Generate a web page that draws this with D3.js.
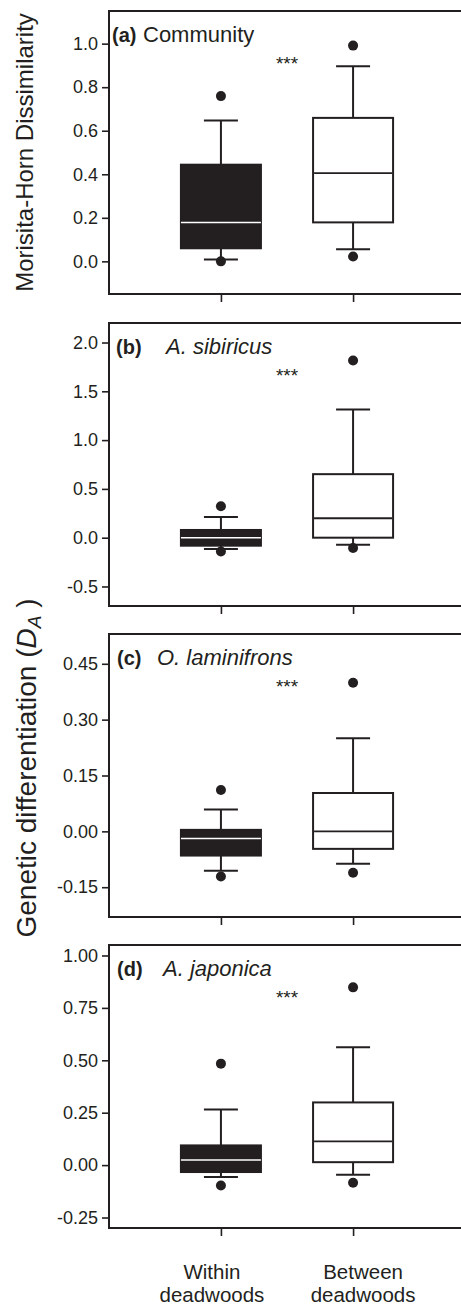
<!DOCTYPE html>
<html>
<head>
<meta charset="utf-8">
<script src="https://cdn.jsdelivr.net/npm/d3@7"></script>
<style>
  body { margin: 0; background: #fff; }
  text { font-family: "Liberation Sans", Arial, sans-serif; fill: #231f20; }
</style>
</head>
<body>
<script>
// categories and panels
const categories = ["Within deadwoods", "Between deadwoods"];
const panelIds = ["(a)", "(b)", "(c)", "(d)"];
const panelNames = ["Community", "A. sibiricus", "O. laminifrons", "A. japonica"];
const italicName = [false, true, true, true];
const significance = ["***", "***", "***", "***"];

// y axes
const yDomains = [[-0.15, 1.15], [-0.7, 2.2], [-0.23, 0.53], [-0.30, 1.05]];
const yTicks = [
  [0, 0.2, 0.4, 0.6, 0.8, 1.0],
  [-0.5, 0, 0.5, 1.0, 1.5, 2.0],
  [-0.15, 0, 0.15, 0.30, 0.45],
  [-0.25, 0, 0.25, 0.50, 0.75, 1.00]
];
const tickFormats = [".1f", ".1f", ".2f", ".2f"];

// box statistics, per panel: [within, between]
const whiskerLow  = [[0.009, 0.055], [-0.116, -0.072], [-0.106, -0.087], [-0.057, -0.046]];
const q1          = [[0.060, 0.179], [-0.082, 0.000], [-0.065, -0.047], [-0.033, 0.014]];
const median      = [[0.179, 0.405], [0.000, 0.199], [-0.019, 0.000], [0.024, 0.113]];
const q3          = [[0.444, 0.659], [0.079, 0.651], [0.004, 0.103], [0.094, 0.299]];
const whiskerHigh = [[0.647, 0.896], [0.213, 1.314], [0.059, 0.250], [0.265, 0.562]];
const outliers    = [
  [[0.759, 0.000], [0.991, 0.022]],
  [[0.322, -0.141], [1.815, -0.106]],
  [[0.111, -0.121], [0.399, -0.111]],
  [[0.484, -0.097], [0.848, -0.084]]
];

// layout
const W = 461, H = 1307;
const left = 109, right = 465;
const panelTop = [11, 323, 634, 945];
const panelH = 283;
const idX = [112, 116, 117, 117];
const nameX = [143, 166, 157, 163];
const boxW = 80, capW = 34;
const ink = "#231f20";

const svg = d3.select("body").append("svg")
    .attr("width", W)
    .attr("height", H);

const x = d3.scalePoint()
    .domain(categories)
    .range([left, right])
    .padding(0.847);

const fills = [ink, "#fff"];
const medColors = ["#fff", ink];

panelIds.forEach((id, p) => {
  const top = panelTop[p], bottom = top + panelH;
  const y = d3.scaleLinear().domain(yDomains[p]).range([bottom, top]);
  const fmt = d3.format(tickFormats[p]);
  const g = svg.append("g");

  // y axis
  const ya = g.append("g")
      .attr("transform", `translate(${left},0)`)
      .call(d3.axisLeft(y).tickValues(yTicks[p])
        .tickFormat(d => fmt(d).replace("\u2212", "-"))
        .tickSize(7).tickPadding(4));
  ya.select(".domain").remove();
  ya.selectAll(".tick line").attr("stroke", ink).attr("stroke-width", 1.6);
  ya.selectAll(".tick text").attr("font-size", 18).attr("font-family", null).attr("fill", ink);

  // x axis ticks
  const xa = g.append("g")
      .attr("transform", `translate(0,${bottom})`)
      .call(d3.axisBottom(x).tickSize(8).tickFormat(""));
  xa.select(".domain").remove();
  xa.selectAll(".tick line").attr("stroke", ink).attr("stroke-width", 1.6);

  // frame
  g.append("rect")
      .attr("x", left).attr("y", top)
      .attr("width", right - left).attr("height", panelH)
      .attr("fill", "none").attr("stroke", ink).attr("stroke-width", 2);

  const boxes = g.selectAll(".box")
      .data(categories.map((c, i) => ({
        c, i,
        lo: whiskerLow[p][i], q1: q1[p][i], med: median[p][i],
        q3: q3[p][i], hi: whiskerHigh[p][i], out: outliers[p][i]
      })))
    .enter().append("g")
      .attr("class", "box");

  // whiskers
  boxes.append("line")
      .attr("x1", d => x(d.c)).attr("x2", d => x(d.c))
      .attr("y1", d => y(d.hi)).attr("y2", d => y(d.lo))
      .attr("stroke", ink).attr("stroke-width", 2);
  boxes.selectAll(".cap")
      .data(d => [d.lo, d.hi].map(v => ({ c: d.c, v })))
    .enter().append("line")
      .attr("x1", d => x(d.c) - capW / 2).attr("x2", d => x(d.c) + capW / 2)
      .attr("y1", d => y(d.v)).attr("y2", d => y(d.v))
      .attr("stroke", ink).attr("stroke-width", 2);

  // box
  boxes.append("rect")
      .attr("x", d => x(d.c) - boxW / 2)
      .attr("width", boxW)
      .attr("y", d => y(d.q3))
      .attr("height", d => y(d.q1) - y(d.q3))
      .attr("fill", d => fills[d.i])
      .attr("stroke", ink).attr("stroke-width", 2);

  // median
  boxes.append("line")
      .attr("x1", d => x(d.c) - boxW / 2 + (d.i === 0 ? 0 : 1))
      .attr("x2", d => x(d.c) + boxW / 2 - (d.i === 0 ? 0 : 1))
      .attr("y1", d => y(d.med)).attr("y2", d => y(d.med))
      .attr("stroke", d => medColors[d.i])
      .attr("stroke-width", d => d.i === 0 ? 1.5 : 1.8);

  // outliers
  boxes.selectAll(".out")
      .data(d => d.out.map(v => ({ c: d.c, v })))
    .enter().append("circle")
      .attr("cx", d => x(d.c)).attr("cy", d => y(d.v))
      .attr("r", 5).attr("fill", ink);

  // significance
  g.append("text")
      .attr("x", d3.mean(categories, c => x(c)))
      .attr("y", top + 59)
      .attr("text-anchor", "middle")
      .attr("font-size", 19)
      .text(significance[p]);

  // panel label
  g.append("text")
      .attr("x", idX[p]).attr("y", top + 31)
      .attr("font-size", 20).attr("font-weight", "bold")
      .text(id);
  g.append("text")
      .attr("x", nameX[p]).attr("y", top + 31)
      .attr("font-size", 22)
      .attr("font-style", italicName[p] ? "italic" : "normal")
      .text(panelNames[p]);
});

// category labels under last panel
const lastBottom = panelTop[3] + panelH;
const catShift = [-9, 10];
categories.forEach((c, i) => {
  const words = c.split(" ");
  const t = svg.append("text")
      .attr("text-anchor", "middle")
      .attr("font-size", 20.5);
  words.forEach((w, k) => {
    t.append("tspan")
        .attr("x", x(c) + catShift[i])
        .attr("y", lastBottom + 51 + k * 23)
        .text(w);
  });
});

// y axis titles
svg.append("text")
    .attr("transform", `translate(33,${(panelTop[0] + panelTop[0] + panelH) / 2}) rotate(-90)`)
    .attr("text-anchor", "middle")
    .attr("font-size", 24)
    .text("Morisita-Horn Dissimilarity");

const gen = svg.append("text")
    .attr("transform", "translate(36,768) rotate(-90)")
    .attr("text-anchor", "middle")
    .attr("font-size", 28);
gen.append("tspan").text("Genetic differentiation (");
gen.append("tspan").attr("font-style", "italic").text("D");
gen.append("tspan").attr("font-style", "italic").attr("font-size", 19).attr("dy", 5).text("A");
gen.append("tspan").attr("dy", -5).text(" )");
</script>
</body>
</html>
